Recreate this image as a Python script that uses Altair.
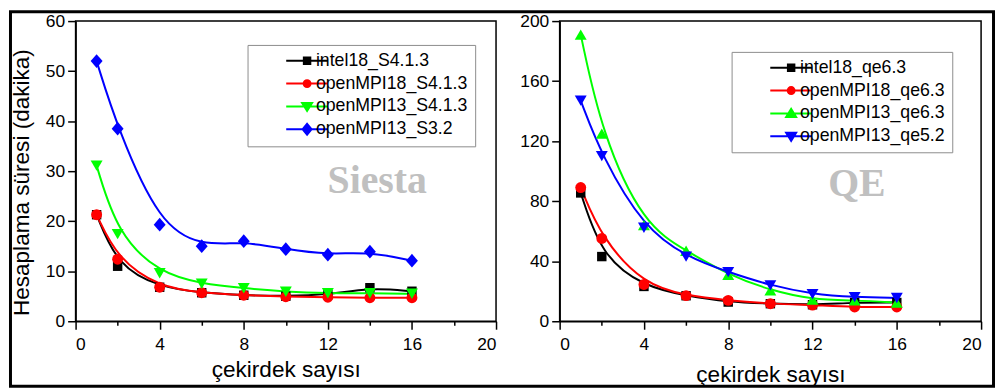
import altair as alt
import pandas as pd

cores = [1, 2, 4, 6, 8, 10, 12, 14, 16]

# Siesta panel
siesta_names = ["intel18_S4.1.3", "openMPI18_S4.1.3", "openMPI13_S4.1.3", "openMPI13_S3.2"]
siesta_intel18 = [21.3, 11.0, 6.8, 5.7, 5.2, 5.0, 5.3, 6.7, 6.0]
siesta_openmpi18 = [21.3, 12.4, 6.8, 5.7, 5.2, 4.9, 4.8, 4.7, 4.7]
siesta_openmpi13 = [31.1, 17.4, 9.6, 7.5, 6.6, 5.9, 5.6, 5.6, 5.5]
siesta_openmpi13_s32 = [52.0, 38.5, 19.3, 15.0, 16.0, 14.4, 13.3, 13.9, 12.1]

# QE panel
qe_names = ["intel18_qe6.3", "openMPI18_qe6.3", "openMPI13_qe6.3", "openMPI13_qe5.2"]
qe_intel18 = [85.5, 43.1, 23.2, 17.0, 12.8, 11.7, 11.0, 12.5, 12.5]
qe_openmpi18 = [89.1, 55.2, 24.5, 17.1, 13.9, 11.7, 10.8, 9.5, 9.5]
qe_openmpi13 = [191.0, 125.0, 64.0, 47.0, 31.0, 20.6, 14.4, 13.9, 12.5]
qe_openmpi13_52 = [147.0, 110.0, 62.3, 43.1, 32.7, 23.9, 18.1, 16.1, 15.5]

colors = ["#000000", "#ff0000", "#00ff00", "#0000ff"]

FONT = "Liberation Sans"

LINE = "M-4.2,0H4.2"
LEG_SQUARE = LINE + "M-0.65,-0.65H0.65V0.65H-0.65Z"
LEG_CIRCLE = LINE + "M-0.7,0A0.7,0.7 0 1,0 0.7,0A0.7,0.7 0 1,0 -0.7,0Z"
LEG_TRI_DOWN = LINE + "M-1,-0.7L1,-0.7L0,0.9Z"
LEG_TRI_UP = LINE + "M-1,0.7L1,0.7L0,-0.9Z"
LEG_DIAMOND = LINE + "M0,-1.1L0.9,0L0,1.1L-0.9,0Z"
DIAMOND = "M0,-1.15L1,0L0,1.15L-1,0Z"


def panel(names, series, shapes, sizes, leg_paths, y_max, y_step, y_major,
          y_title, leg_x, leg_y, wm_text, wm_x, wm_y, x_title_pad, width, frame):
    rows = []
    for n, vals in zip(names, series):
        for c, v in zip(cores, vals):
            rows.append({"series": n, "cores": c, "time": v})
    df = pd.DataFrame(rows)

    xaxis = alt.Axis(
        values=list(range(0, 21, 2)),
        labelExpr="datum.value % 4 === 0 ? datum.label : ''",
        tickSize={"condition": {"test": "datum.value % 4 === 0", "value": 8}, "value": 4},
        title="çekirdek sayısı", titlePadding=x_title_pad, labelPadding=6,
    )
    yaxis_kw = dict(
        values=list(range(0, y_max + 1, y_step)),
        labelExpr=f"datum.value % {y_major} === 0 ? datum.label : ''",
        tickSize={"condition": {"test": f"datum.value % {y_major} === 0", "value": 8}, "value": 4},
        labelPadding=3,
    )
    if y_title:
        yaxis = alt.Axis(title=y_title, titlePadding=12, titleY=162, **yaxis_kw)
    else:
        yaxis = alt.Axis(title=None, **yaxis_kw)

    X = alt.X("cores:Q", scale=alt.Scale(domain=[0, 20], nice=False, zero=False), axis=xaxis)
    Y = alt.Y("time:Q", scale=alt.Scale(domain=[0, y_max], nice=False), axis=yaxis)

    base = alt.Chart(df)
    layers = []
    for i, (n, c) in enumerate(zip(names, colors)):
        enc = dict(x=X, y=Y) if i == 0 else dict(x="cores:Q", y="time:Q")
        layers.append(
            base.transform_filter(alt.datum.series == n)
            .mark_line(interpolate="basis", strokeWidth=2, color=c)
            .encode(**enc)
        )

    legend = alt.Legend(
        title=None, orient="none", legendX=leg_x, legendY=leg_y,
        labelFont=FONT, labelFontSize=17.8, labelColor="black",
        symbolSize=100, symbolStrokeWidth=2, symbolOpacity=1,
        strokeColor="#8c8c8c", fillColor="white", padding=7,
        rowPadding=4, symbolOffset=44, labelOffset=0,
    )
    leg = base.transform_filter("false").mark_point(filled=True).encode(
        x="cores:Q", y="time:Q",
        fill=alt.Fill("series:N", scale=alt.Scale(domain=names, range=colors), legend=legend),
        stroke=alt.Stroke("series:N", scale=alt.Scale(domain=names, range=colors), legend=legend),
        shape=alt.Shape("series:N", scale=alt.Scale(domain=names, range=leg_paths), legend=legend),
    )
    layers.append(leg)

    for n, c, s, sz in zip(names, colors, shapes, sizes):
        layers.append(
            base.transform_filter(alt.datum.series == n)
            .mark_point(shape=s, filled=True, size=sz, color=c, opacity=1)
            .encode(x="cores:Q", y="time:Q")
        )

    wm = alt.Chart(pd.DataFrame({"label": [wm_text]})).mark_text(
        font="Liberation Serif", fontWeight="bold", fontSize=40, color="#c0c0c0",
        align="center", baseline="alphabetic",
    ).encode(text="label:N", x=alt.value(wm_x), y=alt.value(wm_y))
    layers.append(wm)

    if frame:
        fr = alt.Chart(pd.DataFrame({"k": [0]})).mark_rect(
            filled=False, stroke="black", strokeWidth=3
        ).encode(x=alt.value(-65.5), x2=alt.value(923.5), y=alt.value(-9.5), y2=alt.value(367.5))
        layers.append(fr)

    return alt.layer(*layers).properties(width=width, height=302)


left = panel(
    siesta_names,
    [siesta_intel18, siesta_openmpi18, siesta_openmpi13, siesta_openmpi13_s32],
    ["square", "circle", "triangle-down", DIAMOND],
    [90, 121, 144, 144],
    [LEG_SQUARE, LEG_CIRCLE, LEG_TRI_DOWN, LEG_DIAMOND],
    60, 5, 10, "Hesaplama süresi (dakika)",
    173, 24, "Siesta", 303.5, 172.7, 6, 423, True,
)
right = panel(
    qe_names,
    [qe_intel18, qe_openmpi18, qe_openmpi13, qe_openmpi13_52],
    ["square", "circle", "triangle-up", "triangle-down"],
    [90, 121, 144, 144],
    [LEG_SQUARE, LEG_CIRCLE, LEG_TRI_UP, LEG_TRI_DOWN],
    200, 20, 40, None,
    173, 31, "QE", 299, 176, 11, 424, False,
)

chart = alt.hconcat(
    left, right, spacing=64, bounds="flush", padding=0, background="white"
).resolve_scale(
    fill="independent", stroke="independent", shape="independent"
).resolve_legend(
    fill="independent", stroke="independent", shape="independent"
).configure_view(
    stroke="black", strokeWidth=1.5
).configure_axis(
    domainColor="black", domainWidth=1.5, tickColor="black", tickWidth=1.5,
    labelFont=FONT, labelFontSize=17.5, labelColor="black",
    titleFont=FONT, titleFontSize=22.7, titleFontWeight="normal", titleColor="black",
    grid=False,
)

chart.save("out.html", embed_options={"renderer": "svg", "actions": False})
